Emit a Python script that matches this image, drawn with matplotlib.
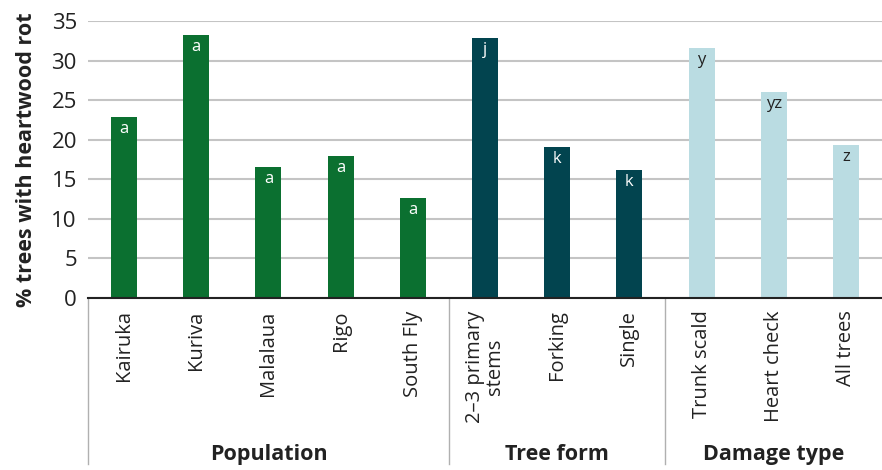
import matplotlib
matplotlib.use("Agg")
import matplotlib.pyplot as plt

categories = ["Kairuka", "Kuriva", "Malalaua", "Rigo", "South Fly",
              "2\u20133 primary\nstems", "Forking", "Single",
              "Trunk scald", "Heart check", "All trees"]
values = [22.9, 33.2, 16.6, 18.0, 12.6, 32.9, 19.1, 16.2, 31.6, 26.0, 19.3]
letters = ["a", "a", "a", "a", "a", "j", "k", "k", "y", "yz", "z"]
groups = ["Population", "Tree form", "Damage type"]
group_sizes = [5, 3, 3]
group_colors = ["#0b7030", "#02444f", "#badce2"]
letter_colors = ["white", "white", "#222222"]
yticks = [0, 5, 10, 15, 20, 25, 30, 35]

plt.rcParams['font.family'] = ['Open Sans', 'DejaVu Sans']

fig = plt.figure(figsize=(8.82, 4.70), dpi=100)
ax = fig.add_axes([88/882, 1-298/470, 1-88/882, (298-21)/470])

bar_colors, txt_colors = [], []
for g, n in enumerate(group_sizes):
    bar_colors += [group_colors[g]] * n
    txt_colors += [letter_colors[g]] * n

x = list(range(len(categories)))
ax.bar(x, values, width=0.36, color=bar_colors, zorder=3)
for xi, v, l, c in zip(x, values, letters, txt_colors):
    ax.annotate(l, (xi, v), xytext=(0, -3), textcoords="offset points",
                ha="center", va="top", fontsize=12, color=c, zorder=4)

ax.set_xlim(-0.5, len(categories) - 0.5)
ax.set_ylim(0, 35)
ax.set_yticks(yticks)
ax.tick_params(axis="y", length=0, labelsize=16, pad=8, colors="#222222")
ax.set_xticks([])
ax.yaxis.grid(True, color="#c4c4c4", linewidth=1.5, zorder=0)
for s in ["top", "right", "left"]:
    ax.spines[s].set_visible(False)
ax.spines["bottom"].set_color("#222222")
ax.spines["bottom"].set_linewidth(1.5)
ax.spines["bottom"].set_zorder(5)
ax.set_ylabel("% trees with heartwood rot", fontsize=15.5, fontweight="bold",
              color="#222222", labelpad=10)

trans = ax.get_xaxis_transform()
for xi, c in zip(x, categories):
    ax.text(xi, -0.045, c, transform=trans, rotation=90, ha="center", va="top",
            fontsize=14.5, color="#222222", linespacing=0.95)

start = 0
bounds = [-0.5]
for g, n in enumerate(group_sizes):
    end = start + n
    bounds.append(end - 0.5)
    ax.text((start + end - 1) / 2, -0.565, groups[g], transform=trans,
            ha="center", va="center", fontsize=15.5, fontweight="bold", color="#222222")
    start = end
for b in bounds[:-1]:
    ax.plot([b, b], [0, -0.6], transform=trans, color="#b0b0b0",
            linewidth=1.0, clip_on=False)

fig.savefig("out.png", dpi=100)
